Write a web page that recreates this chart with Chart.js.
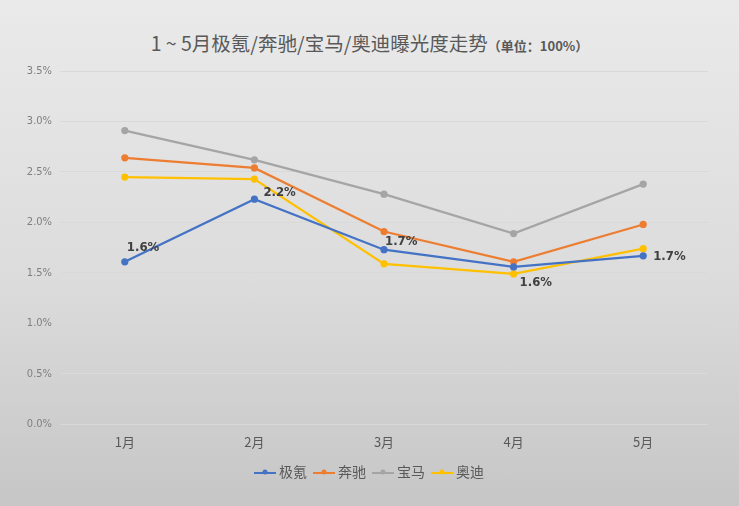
<!DOCTYPE html>
<html>
<head>
<meta charset="utf-8">
<script src="https://cdn.jsdelivr.net/npm/chart.js@4"></script>
<style>
  html, body { margin: 0; padding: 0; }
  body {
    width: 739px; height: 506px; overflow: hidden; position: relative;
    background: linear-gradient(to bottom, #eaeaea 0%, #dcdcdc 55%, #c6c6c6 100%);
    font-family: "Noto Sans CJK SC", sans-serif;
  }
  #title {
    position: absolute; left: 0; top: 30px; width: 739px; text-align: center;
    color: #595959; font-size: 19.5px; line-height: 26px; white-space: nowrap;
  }
  #title .unit { font-size: 13px; font-weight: bold; }
  #wrap { position: absolute; left: 0; top: 0; width: 739px; height: 506px; }
</style>
</head>
<body>
<div id="title">1 ~ 5月极氪/奔驰/宝马/奥迪曝光度走势<span class="unit">（单位：100%）</span></div>
<div id="wrap"><canvas id="chart"></canvas></div>
<script>
const months = ['1月', '2月', '3月', '4月', '5月'];
const zeekr = [1.61, 2.23, 1.73, 1.56, 1.67];
const benz = [2.64, 2.54, 1.91, 1.61, 1.98];
const bmw = [2.91, 2.62, 2.28, 1.89, 2.38];
const audi = [2.45, 2.43, 1.59, 1.49, 1.74];
const yTicks = [0, 0.5, 1.0, 1.5, 2.0, 2.5, 3.0, 3.5];

// label offsets for the zeekr data labels, like the excel original
const labelShift = [[2, -14], [9, -7], [1, -8], [6, 16], [10, 1]];

const zeekrLabels = {
  id: 'zeekrLabels',
  afterLayout(chart) {
    // legend sits a bit right of centre in the original
    chart.legend.left += 17;
    chart.legend.right += 17;
  },
  afterDatasetsDraw(chart) {
    const ctx = chart.ctx;
    const meta = chart.getDatasetMeta(0);
    ctx.save();
    ctx.font = 'bold 13px "Liberation Sans Narrow", "DejaVu Sans Condensed", sans-serif';
    ctx.fillStyle = '#404040';
    ctx.textAlign = 'left';
    ctx.textBaseline = 'middle';
    meta.data.forEach(function(pt, i){
      const s = labelShift[i];
      ctx.fillText(zeekr[i].toFixed(1) + '%', pt.x + s[0], pt.y + s[1]);
    });
    ctx.restore();
  }
};

// legend marker: short line with a dot in the middle
const markers = {};
function marker(color){
  if(markers[color]) return markers[color];
  const c = document.createElement('canvas');
  c.width = 22; c.height = 8;
  const g = c.getContext('2d');
  g.fillStyle = color;
  g.fillRect(0, 4, 22, 2);
  g.beginPath(); g.arc(11, 4, 2.5, 0, Math.PI * 2); g.fill();
  markers[color] = c;
  return c;
}

function line(label, data, color){
  return {
    label: label,
    data: data,
    borderColor: color,
    backgroundColor: color,
    borderWidth: 2.25,
    pointRadius: 2.5,
    pointHoverRadius: 3,
    tension: 0,
    pointStyle: 'circle'
  };
}

new Chart(document.getElementById('chart'), {
  type: 'line',
  data: {
    labels: months,
    datasets: [
      line('极氪', zeekr, '#4472C4'),
      line('奔驰', benz, '#ED7D31'),
      line('宝马', bmw, '#A5A5A5'),
      line('奥迪', audi, '#FFC000')
    ]
  },
  options: {
    responsive: true,
    maintainAspectRatio: false,
    animation: false,
    layout: { padding: { top: 71, right: 31, bottom: 17, left: 0 } },
    scales: {
      x: {
        offset: true,
        grid: { display: false },
        border: { display: false },
        afterFit: function(scale){ scale.height += 3; },
        ticks: { color: '#595959', font: { size: 13, family: '"Noto Sans CJK SC"' }, padding: 2 }
      },
      y: {
        min: 0, max: 3.5,
        afterBuildTicks: function(scale){ scale.ticks = yTicks.map(v => ({ value: v })); },
        afterFit: function(scale){ scale.width = 60; },
        grid: { color: '#d9d9d9', drawTicks: false },
        border: { display: false },
        ticks: {
          color: '#7f7f7f',
          padding: 8,
          font: { size: 11, family: '"Liberation Sans Narrow", "DejaVu Sans Condensed", sans-serif' },
          callback: v => v.toFixed(1) + '%'
        }
      }
    },
    plugins: {
      legend: {
        position: 'bottom',
        labels: {
          color: '#595959',
          font: { size: 14, family: '"Noto Sans CJK SC"' },
          usePointStyle: true,
          boxWidth: 22,
          boxHeight: 8,
          padding: 10,
          generateLabels: function(chart){
            return chart.data.datasets.map(function(ds, i){
              return {
                text: ds.label,
                fillStyle: ds.borderColor,
                strokeStyle: ds.borderColor,
                lineWidth: 0,
                pointStyle: marker(ds.borderColor),
                hidden: false,
                datasetIndex: i,
                fontColor: '#595959'
              };
            });
          }
        }
      },
      title: { display: false },
      tooltip: { enabled: false }
    }
  },
  plugins: [zeekrLabels]
});
</script>
</body>
</html>
